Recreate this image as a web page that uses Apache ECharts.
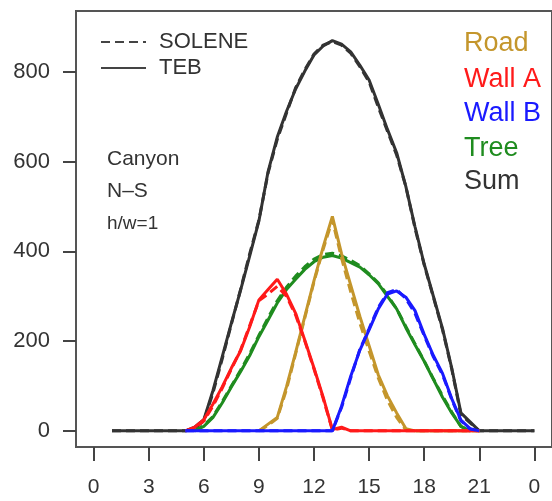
<!DOCTYPE html>
<html>
<head>
<meta charset="UTF-8">
<title>Canyon N-S</title>
<script src="https://cdn.jsdelivr.net/npm/echarts@6/dist/echarts.min.js"></script>
</head>
<body style="margin:0">
<div id="main" style="width:552px;height:501px;"></div>
<script>
    // hour of day, 5h .. 21h every half hour
    var hours = [5, 5.5, 6, 6.5, 7, 7.5, 8, 8.5, 9, 9.5, 10, 10.5, 11, 11.5, 12, 12.5, 13,
        13.5, 14, 14.5, 15, 15.5, 16, 16.5, 17, 17.5, 18, 18.5, 19, 19.5, 20, 20.5, 21];
    // the sum is also drawn through the night
    var sumHours = [1, 5, 5.5, 6, 6.5, 7, 7.5, 8, 8.5, 9, 9.5, 10, 10.5, 11, 11.5, 12, 12.5, 13,
        13.5, 14, 14.5, 15, 15.5, 16, 16.5, 17, 17.5, 18, 18.5, 19, 19.5, 20, 20.5, 21, 24];

    var roadTEB = [null, null, null, null, null, null, null, null, 0, 15, 30, 98, 175, 255, 335, 410, 478,
        395, 325, 255, 190, 125, 78, 40, 5, 0, 0, 0, 0, 0, 0, 0, 0];
    var roadSOL = [null, null, null, null, null, null, null, null, 0, 12, 28, 92, 172, 252, 332, 405, 470,
        385, 310, 240, 178, 118, 68, 30, 2, 0, 0, 0, 0, 0, 0, 0, 0];
    var wallATEB = [0, 8, 25, 60, 98, 140, 178, 232, 292, 315, 338, 305, 262, 202, 140, 75, 3,
        8, 0, 0, 0, 0, 0, 0, 0, 0, 0, 0, 0, 0, 0, 0, 0];
    var wallASOL = [0, 6, 22, 55, 95, 138, 180, 235, 290, 305, 322, 300, 258, 200, 138, 72, 2,
        6, 0, 0, 0, 0, 0, 0, 0, 0, 0, 0, 0, 0, 0, 0, 0];
    var wallBTEB = [0, 0, 0, 0, 0, 0, 0, 0, 0, 0, 0, 0, 0, 0, 0, 0, 0,
        55, 122, 180, 225, 272, 305, 312, 298, 268, 215, 168, 128, 72, 24, 5, 0];
    var wallBSOL = [0, 0, 0, 0, 0, 0, 0, 0, 0, 0, 0, 0, 0, 0, 0, 0, 0,
        52, 118, 182, 228, 275, 308, 315, 295, 262, 212, 165, 125, 70, 22, 4, 0];
    var treeTEB = [null, 0, 10, 30, 62, 98, 132, 168, 210, 247, 285, 315, 338, 360, 377, 387, 391,
        385, 375, 365, 348, 328, 300, 272, 230, 192, 155, 115, 75, 40, 10, 0, null];
    var treeSOL = [null, 0, 12, 32, 65, 100, 135, 172, 213, 252, 290, 320, 345, 366, 383, 393, 396,
        390, 380, 368, 350, 330, 303, 272, 233, 194, 156, 116, 78, 42, 10, 0, null];
    var sumTEB = [0, 0, 8, 25, 90, 165, 240, 313, 390, 468, 578, 655, 712, 762, 802, 838, 858, 870,
        862, 845, 815, 782, 728, 672, 620, 545, 455, 372, 300, 228, 140, 40, 20, 0, 0];
    var sumSOL = [0, 0, 6, 22, 85, 160, 238, 315, 395, 470, 575, 650, 708, 765, 805, 840, 860, 868,
        860, 842, 812, 778, 722, 668, 615, 545, 452, 370, 298, 225, 138, 36, 18, 0, 0];

    var xTicks = [0, 3, 6, 9, 12, 15, 18, 21, 24];
    var yTicks = [0, 200, 400, 600, 800];
    var names = ['Road', 'Wall A', 'Wall B', 'Tree', 'Sum'];
    var colors = ['#c4962c', '#ff1a1a', '#1a1aff', '#1f8c1f', '#333333'];
    var FONT = '"Liberation Sans", Arial, sans-serif';

    function pairs(xs, ys) {
        var out = [];
        for (var i = 0; i < xs.length; i++) out.push([xs[i], ys[i]]);
        return out;
    }

    function line(name, xs, ys, color, dashed) {
        return {
            name: name,
            type: 'line',
            data: pairs(xs, ys),
            symbol: 'none',
            connectNulls: false,
            silent: true,
            lineStyle: { color: color, width: 3, type: dashed ? [9, 5] : 'solid' },
            itemStyle: { color: color }
        };
    }

    var series = [
        line('SumTEB', sumHours, sumTEB, colors[4], false),
        line('SumSOL', sumHours, sumSOL, colors[4], true),
        line('TreeTEB', hours, treeTEB, colors[3], false),
        line('TreeSOL', hours, treeSOL, colors[3], true),
        line('RoadTEB', hours, roadTEB, colors[0], false),
        line('RoadSOL', hours, roadSOL, colors[0], true),
        line('WallATEB', hours, wallATEB, colors[1], false),
        line('WallASOL', hours, wallASOL, colors[1], true),
        line('WallBTEB', hours, wallBTEB, colors[2], false),
        line('WallBSOL', hours, wallBSOL, colors[2], true),
        // key entries only
        { name: 'SOLENE', type: 'line', data: [], symbol: 'none', lineStyle: { color: '#444', width: 2.5, type: [9, 5] }, itemStyle: { color: '#444' } },
        { name: 'TEB', type: 'line', data: [], symbol: 'none', lineStyle: { color: '#444', width: 2.5 }, itemStyle: { color: '#444' } }
    ];

    var labelY = [45, 81, 115, 150, 183];
    var graphics = [];
    for (var i = 0; i < names.length; i++) {
        graphics.push({
            type: 'text', left: 464, top: labelY[i] - 15,
            style: { text: names[i], fill: colors[i], font: '27px ' + FONT }
        });
    }
    graphics.push(
        { type: 'text', left: 107, top: 149, style: { text: 'Canyon', fill: '#333', font: '21px ' + FONT } },
        { type: 'text', left: 107, top: 181, style: { text: 'N\u2013S', fill: '#333', font: '21px ' + FONT } },
        { type: 'text', left: 107, top: 214, style: { text: 'h/w=1', fill: '#333', font: '19px ' + FONT } }
    );

    var myChart = echarts.init(document.getElementById('main'));
    var option = {
        animation: false,
        backgroundColor: '#fff',
        grid: {
            left: 76, top: 11, width: 480, height: 436,
            show: true, borderColor: '#555', borderWidth: 2
        },
        legend: {
            data: ['SOLENE', 'TEB'],
            orient: 'vertical',
            left: 95, top: 26,
            itemWidth: 45, itemHeight: 14, itemGap: 4,
            selectedMode: false,
            itemStyle: { opacity: 0 },
            textStyle: { color: '#333', fontSize: 22, fontFamily: FONT, padding: [0, 0, 0, 8] }
        },
        xAxis: {
            type: 'value',
            min: -0.96, max: 24.96,
            splitLine: { show: false },
            axisLine: { show: true, onZero: false, lineStyle: { color: '#555', width: 2 } },
            axisTick: { show: true, length: 14, customValues: xTicks, lineStyle: { color: '#444', width: 2 } },
            axisLabel: {
                customValues: xTicks, margin: 30, color: '#333', fontSize: 21, fontFamily: FONT,
                formatter: function (v) { return v === 24 ? '0' : String(v); }
            }
        },
        yAxis: {
            type: 'value',
            min: -36, max: 936,
            splitLine: { show: false },
            axisLine: { show: true, onZero: false, lineStyle: { color: '#555', width: 2 } },
            axisTick: { show: true, length: 13, customValues: yTicks, lineStyle: { color: '#444', width: 2 } },
            axisLabel: { customValues: yTicks, margin: 26, color: '#333', fontSize: 22, fontFamily: FONT }
        },
        graphic: graphics,
        series: series
    };
    myChart.setOption(option);
</script>
</body>
</html>
